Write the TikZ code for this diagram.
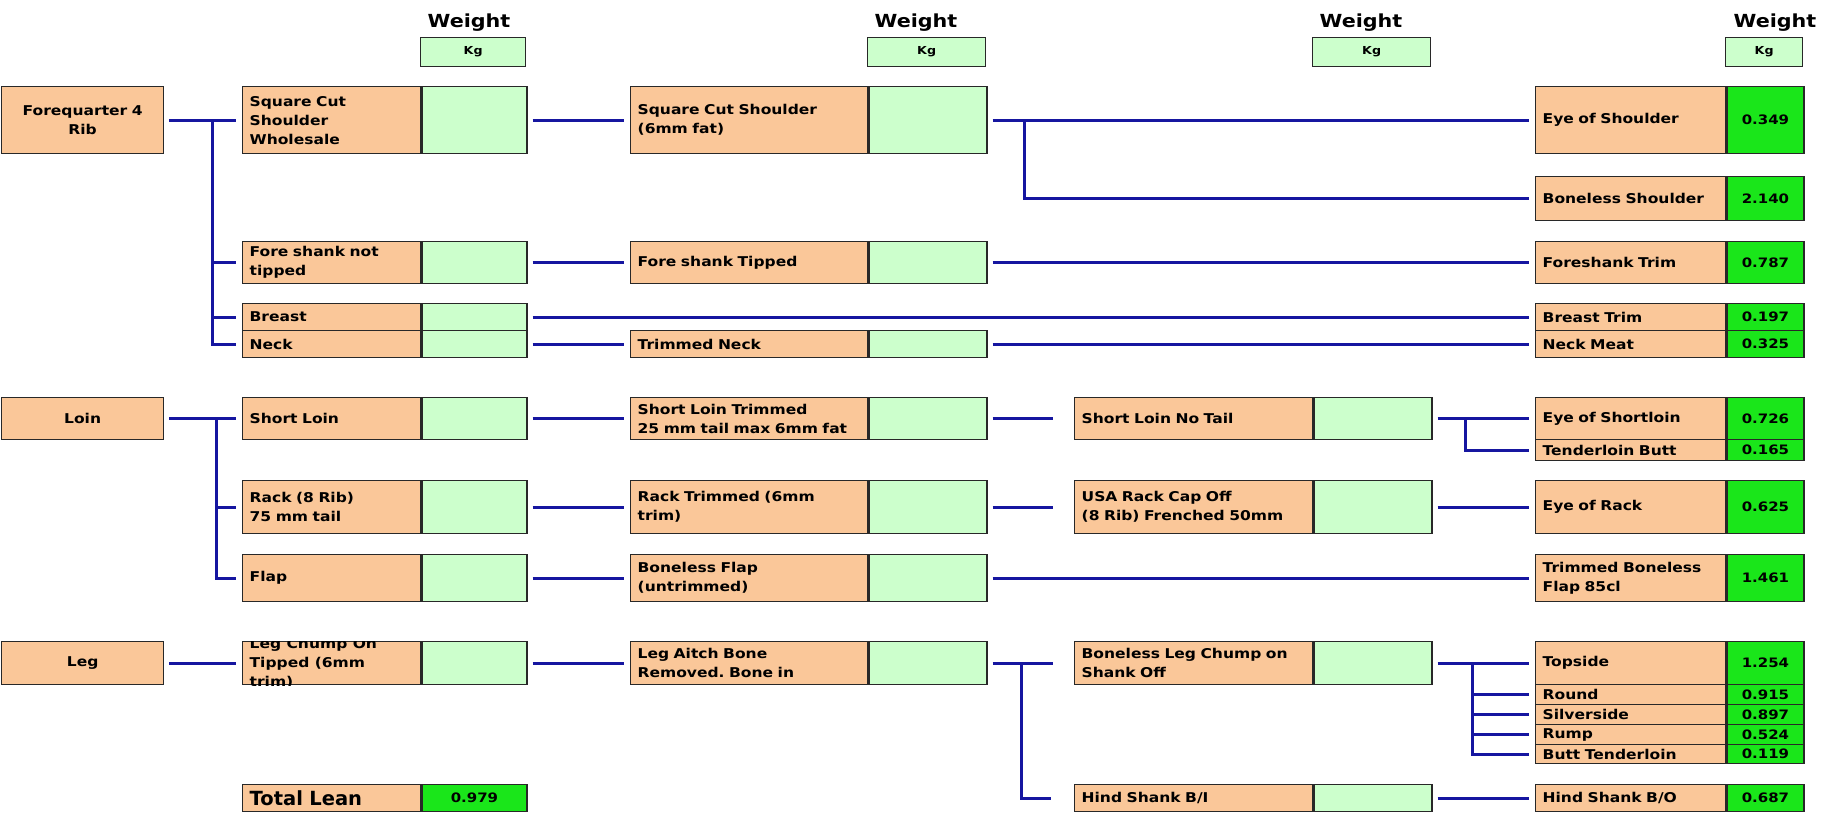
\documentclass[tikz,border=0pt]{standalone}
\usepackage{fontspec}
\setmainfont{DejaVu Sans}
\newfontfamily\pixfont[FakeStretch=1.15]{DejaVu Sans}
\definecolor{cutcol}{RGB}{250,199,153}
\definecolor{palegreen}{RGB}{204,255,204}
\definecolor{brightgreen}{RGB}{26,230,26}
\definecolor{linkblue}{RGB}{22,22,160}
\definecolor{boxline}{RGB}{40,40,40}
\frenchspacing

\begin{document}
\begin{tikzpicture}[x=1pt,y=-1pt]
    \tikzstyle{cut}=[draw=boxline, line width=1.3pt, fill=cutcol, anchor=north west, inner xsep=7pt, inner ysep=0pt, align=left, font=\pixfont\bfseries\fontsize{13.5}{19}\selectfont]
    \tikzstyle{root}=[cut, minimum width=162pt, text width=148pt, align=center]
    \tikzstyle{cut1}=[cut, minimum width=178pt, text width=164pt]
    \tikzstyle{cut2}=[cut, minimum width=237pt, text width=223pt]
    \tikzstyle{cut3}=[cut, minimum width=238pt, text width=224pt]
    \tikzstyle{cut4}=[cut, minimum width=190pt, text width=176pt]
    \tikzstyle{kg}=[draw=boxline, line width=1.3pt, fill=palegreen, anchor=north west, inner sep=0pt, font=\pixfont\bfseries\fontsize{13}{15}\selectfont]
    \tikzstyle{kg1}=[kg, minimum width=105pt]
    \tikzstyle{kg2}=[kg, minimum width=118pt]
    \tikzstyle{kg4}=[kg, minimum width=77pt]
    \tikzstyle{val}=[kg4, fill=brightgreen]
    \tikzstyle{head}=[kg, font=\pixfont\bfseries\fontsize{11}{13}\selectfont, minimum height=29pt]
    \tikzstyle{weight}=[font=\pixfont\bfseries\fontsize{18}{20}\selectfont, inner sep=0pt]
    \tikzstyle{link}=[line width=3pt, draw=linkblue, shorten <=5pt, shorten >=6pt]
    \tikzstyle{link3}=[link, shorten >=21pt]
    \tikzstyle{branch}=[link, shorten <=0pt]

    \useasboundingbox (0,0) rectangle (1825,814);

    % Column heads
    \node[head, minimum width=105pt] (kg1) at (420,37) {Kg};
    \node[head, minimum width=118pt] (kg2) at (867,37) {Kg};
    \node[head, minimum width=118pt] (kg3) at (1312,37) {Kg};
    \node[head, minimum width=77pt] (kg4) at (1725,37) {Kg};
    \node[weight] (wt1) at (469,23) {Weight};
    \node[weight] (wt2) at (916,23) {Weight};
    \node[weight] (wt3) at (1361,23) {Weight};
    \node[weight] (wt4) at (1775,23) {Weight};

    % Primals
    \node[root, minimum height=67pt] (fq) at (1,86) {Forequarter 4\\Rib};
    \node[root, minimum height=42pt] (loin) at (1,397) {Loin};
    \node[root, minimum height=43pt] (leg) at (1,641) {Leg};

    % First cuts
    \node[cut1, minimum height=67pt] (sq1) at (242,86) {Square Cut\\Shoulder\\Wholesale};
    \node[kg1, minimum height=67pt] (sq1-w) at (sq1.north east) {};
    \node[cut1, minimum height=42pt] (fs1) at (242,241) {Fore shank not\\tipped};
    \node[kg1, minimum height=42pt] (fs1-w) at (fs1.north east) {};
    \node[cut1, minimum height=27pt] (br1) at (242,303) {Breast};
    \node[kg1, minimum height=27pt] (br1-w) at (br1.north east) {};
    \node[cut1, minimum height=27pt] (nk1) at (242,330) {Neck};
    \node[kg1, minimum height=27pt] (nk1-w) at (nk1.north east) {};
    \node[cut1, minimum height=42pt] (sl1) at (242,397) {Short Loin};
    \node[kg1, minimum height=42pt] (sl1-w) at (sl1.north east) {};
    \node[cut1, minimum height=53pt] (rk1) at (242,480) {Rack (8 Rib)\\75 mm tail};
    \node[kg1, minimum height=53pt] (rk1-w) at (rk1.north east) {};
    \node[cut1, minimum height=47pt] (fl1) at (242,554) {Flap};
    \node[kg1, minimum height=47pt] (fl1-w) at (fl1.north east) {};
    \node[cut1, minimum height=43pt] (lc1) at (242,641) {};
    \begin{scope}
        \clip (lc1.north west) rectangle (lc1.south east);
        \node[cut, draw=none, fill=none, anchor=west] (lc1-t) at (lc1.west) {Leg Chump On\\Tipped (6mm\\trim)};
    \end{scope}
    \node[kg1, minimum height=43pt] (lc1-w) at (lc1.north east) {};
    \node[cut1, minimum height=27pt, font=\bfseries\fontsize{19.5}{22}\selectfont] (total) at (242,784) {Total Lean};
    \node[kg1, fill=brightgreen, minimum height=27pt] (total-w) at (total.north east) {0.979};

    % Second cuts
    \node[cut2, minimum height=67pt] (sq2) at (630,86) {Square Cut Shoulder\\(6mm fat)};
    \node[kg2, minimum height=67pt] (sq2-w) at (sq2.north east) {};
    \node[cut2, minimum height=42pt] (fs2) at (630,241) {Fore shank Tipped};
    \node[kg2, minimum height=42pt] (fs2-w) at (fs2.north east) {};
    \node[cut2, minimum height=27pt] (nk2) at (630,330) {Trimmed Neck};
    \node[kg2, minimum height=27pt] (nk2-w) at (nk2.north east) {};
    \node[cut2, minimum height=42pt] (sl2) at (630,397) {Short Loin Trimmed\\25 mm tail max 6mm fat};
    \node[kg2, minimum height=42pt] (sl2-w) at (sl2.north east) {};
    \node[cut2, minimum height=53pt] (rk2) at (630,480) {Rack Trimmed (6mm\\trim)};
    \node[kg2, minimum height=53pt] (rk2-w) at (rk2.north east) {};
    \node[cut2, minimum height=47pt] (fl2) at (630,554) {Boneless Flap\\(untrimmed)};
    \node[kg2, minimum height=47pt] (fl2-w) at (fl2.north east) {};
    \node[cut2, minimum height=43pt] (la2) at (630,641) {Leg Aitch Bone\\Removed. Bone in};
    \node[kg2, minimum height=43pt] (la2-w) at (la2.north east) {};

    % Third cuts
    \node[cut3, minimum height=42pt] (sl3) at (1074,397) {Short Loin No Tail};
    \node[kg2, minimum height=42pt] (sl3-w) at (sl3.north east) {};
    \node[cut3, minimum height=53pt] (rk3) at (1074,480) {USA Rack Cap Off\\(8 Rib) Frenched 50mm};
    \node[kg2, minimum height=53pt] (rk3-w) at (rk3.north east) {};
    \node[cut3, minimum height=43pt] (bl3) at (1074,641) {Boneless Leg Chump on\\Shank Off};
    \node[kg2, minimum height=43pt] (bl3-w) at (bl3.north east) {};
    \node[cut3, minimum height=27pt] (hs3) at (1074,784) {Hind Shank B/I};
    \node[kg2, minimum height=27pt] (hs3-w) at (hs3.north east) {};

    % Final products
    \node[cut4, minimum height=67pt] (eos) at (1535,86) {Eye of Shoulder};
    \node[val, minimum height=67pt] (eos-w) at (eos.north east) {0.349};
    \node[cut4, minimum height=44pt] (bls) at (1535,176) {Boneless Shoulder};
    \node[val, minimum height=44pt] (bls-w) at (bls.north east) {2.140};
    \node[cut4, minimum height=42pt] (fst) at (1535,241) {Foreshank Trim};
    \node[val, minimum height=42pt] (fst-w) at (fst.north east) {0.787};
    \node[cut4, minimum height=27pt] (brt) at (1535,303) {Breast Trim};
    \node[val, minimum height=27pt] (brt-w) at (brt.north east) {0.197};
    \node[cut4, minimum height=27pt] (nkm) at (1535,330) {Neck Meat};
    \node[val, minimum height=27pt] (nkm-w) at (nkm.north east) {0.325};
    \node[cut4, minimum height=42pt] (esl) at (1535,397) {Eye of Shortloin};
    \node[val, minimum height=42pt] (esl-w) at (esl.north east) {0.726};
    \node[cut4, minimum height=21pt] (tdb) at (1535,439) {Tenderloin Butt};
    \node[val, minimum height=21pt] (tdb-w) at (tdb.north east) {0.165};
    \node[cut4, minimum height=53pt] (eor) at (1535,480) {Eye of Rack};
    \node[val, minimum height=53pt] (eor-w) at (eor.north east) {0.625};
    \node[cut4, minimum height=47pt] (tbf) at (1535,554) {Trimmed Boneless\\Flap 85cl};
    \node[val, minimum height=47pt] (tbf-w) at (tbf.north east) {1.461};
    \node[cut4, minimum height=43pt] (top) at (1535,641) {Topside};
    \node[val, minimum height=43pt] (top-w) at (top.north east) {1.254};
    \node[cut4, minimum height=20pt] (rnd) at (1535,684) {Round};
    \node[val, minimum height=20pt] (rnd-w) at (rnd.north east) {0.915};
    \node[cut4, minimum height=20pt] (slv) at (1535,704) {Silverside};
    \node[val, minimum height=20pt] (slv-w) at (slv.north east) {0.897};
    \node[cut4, minimum height=20pt] (rmp) at (1535,724) {Rump};
    \node[val, minimum height=20pt] (rmp-w) at (rmp.north east) {0.524};
    \node[cut4, minimum height=19pt] (btd) at (1535,744) {Butt Tenderloin};
    \node[val, minimum height=19pt] (btd-w) at (btd.north east) {0.119};
    \node[cut4, minimum height=27pt] (hso) at (1535,784) {Hind Shank B/O};
    \node[val, minimum height=27pt] (hso-w) at (hso.north east) {0.687};

    % Forequarter links
    \coordinate (fq-j) at ([xshift=48pt]fq.east);
    \draw[link] (fq.east) -- (sq1.west);
    \foreach \n in {fs1,br1,nk1}
        \draw[branch] (fq-j) |- (\n.west);
    \draw[link] (sq1-w.east) -- (sq2.west);
    \draw[link] (sq2-w.east) -- (eos.west);
    \coordinate (sq2-j) at ([xshift=37pt]sq2-w.east);
    \draw[branch] (sq2-j) |- (bls.west);
    \draw[link] (fs1-w.east) -- (fs2.west);
    \draw[link] (fs2-w.east) -- (fst.west);
    \draw[link] (br1-w.east) -- (brt.west);
    \draw[link] (nk1-w.east) -- (nk2.west);
    \draw[link] (nk2-w.east) -- (nkm.west);

    % Loin links
    \coordinate (loin-j) at ([xshift=52pt]loin.east);
    \draw[link] (loin.east) -- (sl1.west);
    \foreach \n in {rk1,fl1}
        \draw[branch] (loin-j) |- (\n.west);
    \draw[link] (sl1-w.east) -- (sl2.west);
    \draw[link3] (sl2-w.east) -- (sl3.west);
    \draw[link] (sl3-w.east) -- (esl.west);
    \coordinate (sl3-j) at ([xshift=33pt]sl3-w.east);
    \draw[branch] (sl3-j) |- (tdb.west);
    \draw[link] (rk1-w.east) -- (rk2.west);
    \draw[link3] (rk2-w.east) -- (rk3.west);
    \draw[link] (rk3-w.east) -- (eor.west);
    \draw[link] (fl1-w.east) -- (fl2.west);
    \draw[link] (fl2-w.east) -- (tbf.west);

    % Leg links
    \draw[link] (leg.east) -- (lc1.west);
    \draw[link] (lc1-w.east) -- (la2.west);
    \draw[link3] (la2-w.east) -- (bl3.west);
    \coordinate (la2-j) at ([xshift=34pt]la2-w.east);
    \draw[branch, shorten >=23pt] (la2-j) |- (hs3.west);
    \draw[link] (bl3-w.east) -- (top.west);
    \coordinate (bl3-j) at ([xshift=40pt]bl3-w.east);
    \foreach \n in {rnd,slv,rmp,btd}
        \draw[branch] (bl3-j) |- (\n.west);
    \draw[link] (hs3-w.east) -- (hso.west);
\end{tikzpicture}
\end{document}
